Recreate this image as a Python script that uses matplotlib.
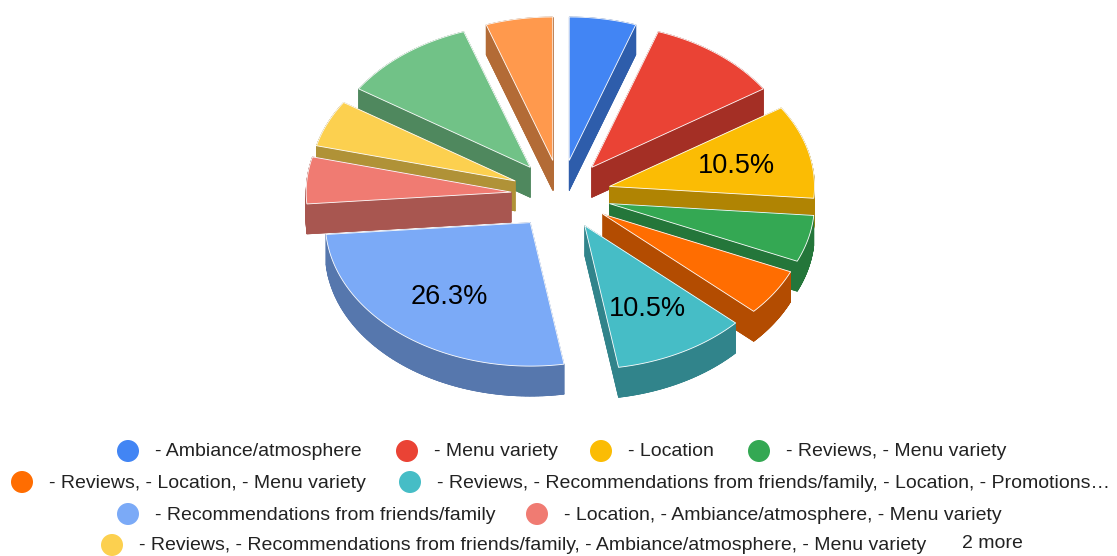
import numpy as np
import matplotlib.pyplot as plt
from matplotlib.patches import Polygon, Circle
from matplotlib.colors import to_rgb

plt.rcParams['font.family'] = ['Liberation Sans', 'DejaVu Sans']

# responses per answer (19 in total), clockwise from 12 o'clock
counts = [1, 2, 2, 1, 1, 2, 5, 1, 1, 2, 1]
colors = ['#4285f4', '#ea4335', '#fbbc04', '#34a853', '#ff6d01', '#46bdc6',
          '#7baaf7', '#f07b72', '#fcd04f', '#71c287', '#ff994d']
legend_labels = [
    '- Ambiance/atmosphere',
    '- Menu variety',
    '- Location',
    '- Reviews, - Menu variety',
    '- Reviews, - Location, - Menu variety',
    '- Reviews, - Recommendations from friends/family, - Location, - Promotions\u2026',
    '- Recommendations from friends/family',
    '- Location, - Ambiance/atmosphere, - Menu variety',
    '- Reviews, - Recommendations from friends/family, - Ambiance/atmosphere, - Menu variety',
]
more_text = '2 more'
# slices big enough to carry a label
show_label = [False, False, True, False, False, True, True, False, False, False, False]

# pie geometry (pixels)
cx, cy = 561, 195
rx = 205
tilt = 0.70
depth = 30
offset = 50


def to_screen(fx, fy):
    return cx + fx, cy - tilt * fy


def darken(c, f=0.7):
    r, g, b = to_rgb(c)
    return (r * f, g * f, b * f)


fig = plt.figure(figsize=(11.17, 5.56), dpi=100)
ax = fig.add_axes([0, 0, 1, 1])
ax.set_xlim(0, 1117)
ax.set_ylim(556, 0)
ax.axis('off')

total = sum(counts)
bounds = np.concatenate([[0], np.cumsum(counts)]) / total * 360.0

slices = []
for i, c in enumerate(counts):
    a0, a1 = bounds[i], bounds[i + 1]
    mid = np.radians((a0 + a1) / 2)
    ox, oy = offset * np.sin(mid), offset * np.cos(mid)
    th = np.radians(np.linspace(a0, a1, 80))
    fx = np.concatenate([[ox], ox + rx * np.sin(th)])
    fy = np.concatenate([[oy], oy + rx * np.cos(th)])
    sx, sy = to_screen(fx, fy)
    slices.append((oy, i, sx, sy, mid, ox))

# back to front
for oy, i, sx, sy, mid, ox in sorted(slices, key=lambda s: -s[0]):
    dark = darken(colors[i])
    top = np.column_stack([sx, sy])
    bot = top + [0, depth]
    ax.add_patch(Polygon(bot, closed=True, fc=dark, ec=dark, lw=0.5))
    n = len(top)
    for k in range(n):
        p, q = top[k], top[(k + 1) % n]
        quad = [p, q, q + [0, depth], p + [0, depth]]
        ax.add_patch(Polygon(quad, closed=True, fc=dark, ec=dark, lw=0.5))
    ax.add_patch(Polygon(top, closed=True, fc=colors[i], ec='white', lw=0.6))

for oy, i, sx, sy, mid, ox in slices:
    if show_label[i]:
        r = 0.64 * rx
        lx, ly = to_screen(ox + r * np.sin(mid), oy + r * np.cos(mid))
        ax.text(lx, ly + 2, f'{counts[i] / total * 100:.1f}%', fontsize=19.5,
                color='black', ha='center', va='center')

# legend rows: (entry index, circle x) ; row y
rows = [
    (451, [(0, 128), (1, 407), (2, 601), (3, 759)]),
    (482, [(4, 22), (5, 410)]),
    (514, [(6, 128), (7, 537)]),
    (545, [(8, 112)]),
]
for y, entries in rows:
    for idx, x in entries:
        ax.add_patch(Circle((x, y), 11, fc=colors[idx], ec='none'))
        ax.text(x + 27, y + 1, legend_labels[idx], fontsize=14, color='#222222',
                ha='left', va='center')
ax.text(962, 543, more_text, fontsize=14, color='#222222', ha='left', va='center')

fig.savefig('out.png', dpi=100)
